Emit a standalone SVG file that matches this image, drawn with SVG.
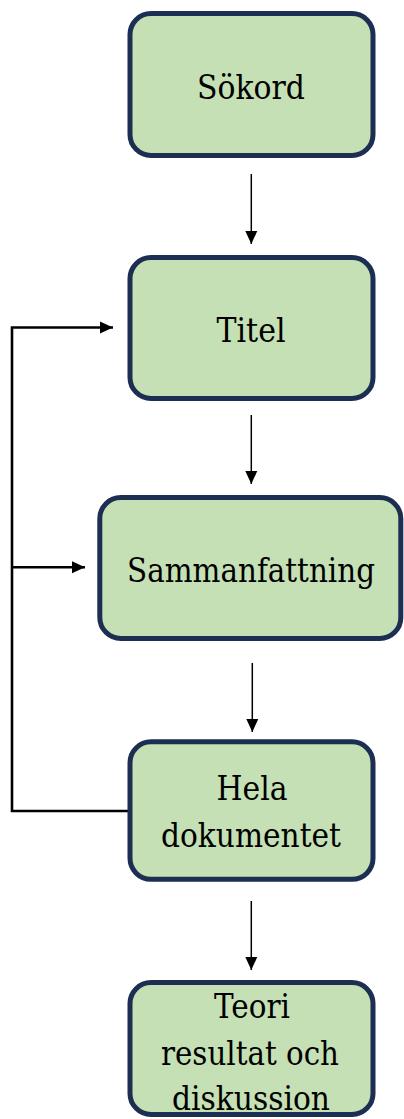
<svg xmlns="http://www.w3.org/2000/svg" width="404" height="1119" viewBox="0 0 404 1119">
<defs>
<style>
.box{fill:#C5E0B4;stroke:#1C2E52;stroke-width:5}
.lbl{font-family:'DejaVu Serif',serif;font-size:33px;fill:#000;text-anchor:middle}
.arr{fill:none;stroke:#000;stroke-width:1.5}
.fb{fill:none;stroke:#000;stroke-width:2.6}
</style>
<marker id="ah" markerUnits="userSpaceOnUse" markerWidth="14" markerHeight="14" viewBox="0 0 14 14" refX="13" refY="7" orient="auto">
<path d="M0,1 L13,7 L0,13 Z" fill="#000"/>
</marker>
</defs>
<rect width="404" height="1119" fill="#fff"/>
<g id="connectors">
<line class="arr" x1="251.3" y1="174" x2="251.3" y2="244" marker-end="url(#ah)"/>
<line class="arr" x1="251.3" y1="415" x2="251.3" y2="484" marker-end="url(#ah)"/>
<line class="arr" x1="252.3" y1="663" x2="252.3" y2="732" marker-end="url(#ah)"/>
<line class="arr" x1="251.3" y1="901" x2="251.3" y2="970" marker-end="url(#ah)"/>
<path class="fb" d="M128,811 H12 V327.5 H113" marker-end="url(#ah)"/>
<path class="fb" d="M12,567.3 H85" marker-end="url(#ah)"/>
</g>
<g id="node-sokord">
<rect class="box" x="130" y="13.5" width="243" height="142" rx="21"/>
<text class="lbl" x="251" y="99" textLength="108" lengthAdjust="spacingAndGlyphs">Sökord</text>
</g>
<g id="node-titel">
<rect class="box" x="130" y="257.5" width="243" height="141" rx="21"/>
<text class="lbl" x="251" y="342" textLength="69" lengthAdjust="spacingAndGlyphs">Titel</text>
</g>
<g id="node-sammanfattning">
<rect class="box" x="99.8" y="497.5" width="301" height="141" rx="21"/>
<text class="lbl" x="251" y="582" textLength="248" lengthAdjust="spacingAndGlyphs">Sammanfattning</text>
</g>
<g id="node-hela">
<rect class="box" x="130" y="741.8" width="243" height="137.5" rx="21"/>
<text class="lbl" x="252" y="800" textLength="71" lengthAdjust="spacingAndGlyphs">Hela</text>
<text class="lbl" x="251" y="847" textLength="180" lengthAdjust="spacingAndGlyphs">dokumentet</text>
</g>
<g id="node-teori">
<rect class="box" x="130" y="982.5" width="243" height="132" rx="21"/>
<text class="lbl" x="252" y="1018" textLength="76" lengthAdjust="spacingAndGlyphs">Teori</text>
<text class="lbl" x="250" y="1065" textLength="178" lengthAdjust="spacingAndGlyphs">resultat och</text>
<text class="lbl" x="251" y="1110" textLength="158" lengthAdjust="spacingAndGlyphs">diskussion</text>
</g>
</svg>
